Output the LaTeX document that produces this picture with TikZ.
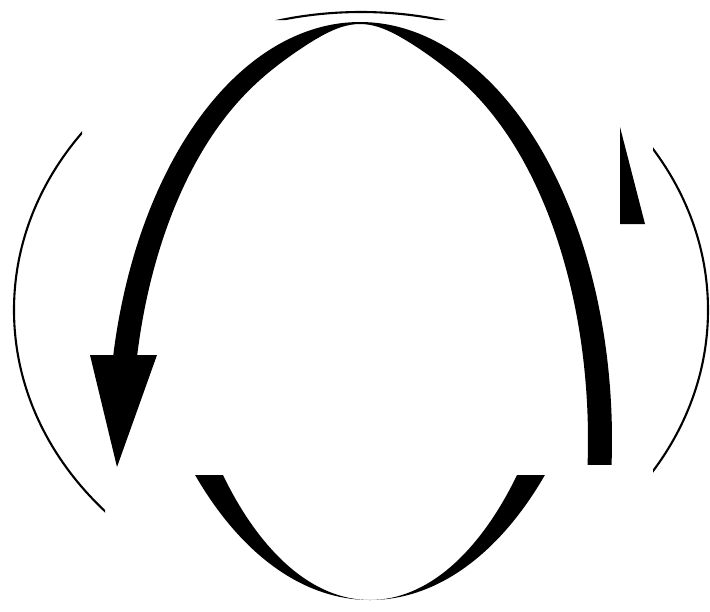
\documentclass[tikz,border=0pt]{standalone}
\tikzset{
  thinring/.style={draw=black, line width=2.1pt},
  band/.style={fill=black, even odd rule},
  solidpart/.style={fill=black}
}
\begin{document}
\begin{tikzpicture}[x=1pt,y=-1pt]
\useasboundingbox[fill=white] (0,0) rectangle (710,611);
% thin outer ring, only its visible pieces
\begin{scope}
  \clip (0,0) rectangle (82,400) (0,400) rectangle (105,611)
        (653,0) rectangle (710,611) (0,0) rectangle (710,20);
  \draw[thinring] (361,310) ellipse [x radius=347pt, y radius=298pt];
\end{scope}
% upper thick arc of the arrow
\fill[solidpart]
  plot[domain=168.27:-3.43, samples=160, smooth]
     ({360+252*cos(\x)}, {440-418*sin(\x)})
  -- plot[domain=-3.58:167.73, samples=160, smooth]
     ({360+228*cos(\x)}, {440-400*sin(\x)-16*exp(-((228*cos(\x)/55)^2))})
  -- cycle;
% arrowhead
\fill[solidpart] (90,355) -- (157,355) -- (117,467) -- cycle;
% lower thick arc
\begin{scope}
  \clip (0,475) rectangle (710,611);
  \fill[band] (370,183) ellipse [x radius=245pt, y radius=417pt]
              (370,183) ellipse [x radius=206pt, y radius=417pt];
\end{scope}
% piece of a second arrowhead, upper right
\fill[solidpart] (620,127) -- (645,224) -- (620,224) -- cycle;
\end{tikzpicture}
\end{document}
